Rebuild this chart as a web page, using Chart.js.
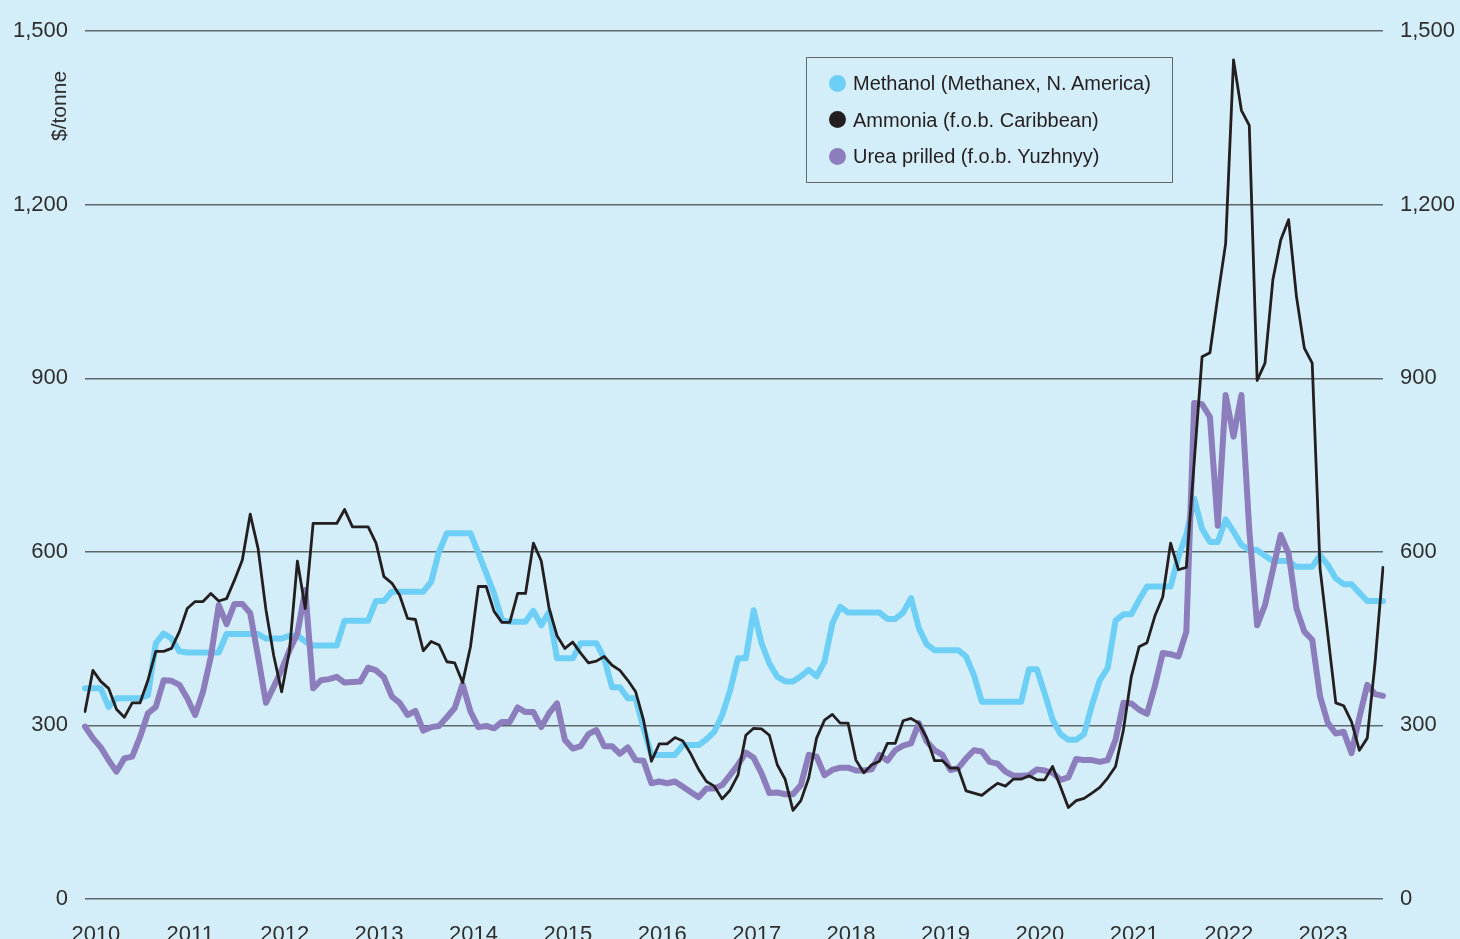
<!DOCTYPE html>
<html>
<head>
<meta charset="utf-8">
<script src="https://cdn.jsdelivr.net/npm/chart.js@4.4.0/dist/chart.umd.min.js"></script>
<style>
  html, body { margin: 0; padding: 0; background: #d4eef9; }
  #wrap { position: relative; width: 1460px; height: 939px; background: #d4eef9; font-family: "Liberation Sans", Arial, sans-serif; color: #231f20; }
  #chart { position: absolute; left: 0; top: 0; }
  #ytitle { position: absolute; left: 59px; top: 106px; transform: translate(-50%, -50%) rotate(-90deg); font-size: 21px; white-space: nowrap; color: #2a2a2a; }
  #legend { position: absolute; left: 806px; top: 57px; width: 367px; height: 126px; box-sizing: border-box; border: 1.5px solid #666; padding-top: 7px; }
  .row { position: relative; height: 36.5px; line-height: 36.5px; font-size: 20px; white-space: nowrap; }
  .dot { position: absolute; left: 22px; top: 9.5px; width: 17px; height: 17px; border-radius: 50%; }
  .lab { position: absolute; left: 46px; top: 0; }
</style>
</head>
<body>
<div id="wrap">
  <canvas id="chart" width="1460" height="939"></canvas>
  <div id="ytitle">$/tonne</div>
  <div id="legend"></div>
</div>
<script>
// Monthly prices, Dec 2009 .. Sep 2023 ($/tonne)
const seriesNames = ['Methanol (Methanex, N. America)', 'Ammonia (f.o.b. Caribbean)', 'Urea prilled (f.o.b. Yuzhnyy)'];
const seriesColors = ['#6dcff6', '#231f20', '#8c7dbd'];

const methanol = [
  364, 364, 364, 332, 347, 347, 347, 347, 352, 442,
  459, 450, 428, 426, 426, 426, 426, 426, 458, 458,
  458, 458, 458, 450, 450, 450, 455, 455, 445, 438,
  438, 438, 438, 481, 481, 481, 481, 515, 515, 531,
  531, 531, 531, 531, 548, 600, 632, 632, 632, 632,
  598, 563, 528, 482, 479, 479, 479, 498, 473, 496,
  416, 416, 416, 442, 442, 442, 416, 366, 366, 347,
  347, 295, 249, 249, 249, 249, 266, 266, 266, 276,
  289, 318, 360, 416, 416, 499, 442, 407, 384, 376,
  376, 385, 396, 385, 410, 476, 505, 495, 495, 495,
  495, 495, 484, 484, 495, 520, 468, 440, 430, 430,
  430, 430, 419, 387, 341, 341, 341, 341, 341, 341,
  397, 397, 355, 310, 285, 275, 275, 285, 335, 378,
  399, 481, 492, 492, 517, 540, 540, 540, 540, 592,
  630, 692, 640, 617, 617, 656, 635, 612, 603, 603,
  593, 584, 584, 584, 574, 574, 574, 594, 577, 554,
  544, 544, 529, 515, 515, 515
];

const ammonia = [
  324, 395, 376, 364, 328, 314, 339, 339, 378, 428,
  428, 433, 462, 502, 514, 514, 528, 515, 519, 551,
  586, 665, 606, 500, 420, 358, 430, 584, 502, 649,
  649, 649, 649, 673, 643, 643, 643, 615, 557, 546,
  525, 485, 483, 429, 445, 439, 410, 408, 374, 436,
  540, 540, 497, 478, 478, 528, 528, 615, 584, 502,
  455, 433, 444, 425, 408, 411, 419, 404, 395, 378,
  358, 309, 238, 268, 268, 279, 273, 251, 224, 203,
  195, 173, 188, 214, 283, 295, 294, 283, 232, 207,
  153, 170, 209, 278, 309, 319, 304, 304, 240, 218,
  232, 238, 269, 269, 308, 312, 304, 278, 239, 239,
  226, 226, 187, 183, 179, 190, 200, 195, 207, 207,
  213, 206, 206, 229, 194, 158, 170, 174, 183, 193,
  209, 229, 292, 384, 436, 443, 489, 522, 615, 569,
  573, 755, 937, 944, 1041, 1133, 1450, 1363, 1337, 896,
  926, 1070, 1139, 1174, 1041, 952, 926, 571, 455, 339,
  334, 306, 257, 278, 410, 573
];

const urea = [
  298, 278, 262, 240, 220, 243, 246, 280, 321, 332,
  378, 377, 370, 347, 318, 358, 419, 508, 475, 510,
  510, 494, 419, 339, 367, 396, 430, 459, 534, 364,
  378, 380, 384, 374, 375, 376, 400, 395, 383, 350,
  339, 318, 325, 291, 297, 299, 314, 330, 371, 324,
  297, 299, 295, 306, 306, 331, 323, 323, 297, 321,
  338, 275, 260, 264, 285, 292, 264, 264, 251, 262,
  240, 239, 200, 203, 200, 203, 194, 185, 176, 191,
  191, 197, 214, 232, 253, 244, 217, 183, 184, 181,
  181, 197, 249, 246, 214, 223, 227, 227, 222, 222,
  224, 249, 239, 257, 265, 269, 304, 272, 257, 249,
  223, 226, 243, 257, 255, 237, 234, 220, 213, 213,
  214, 224, 222, 218, 206, 210, 242, 240, 240, 237,
  240, 275, 339, 338, 327, 320, 368, 425, 423, 419,
  462, 857, 855, 833, 645, 871, 799, 871, 638, 473,
  508, 569, 629, 597, 502, 462, 448, 350, 304, 286,
  289, 252, 314, 370, 354, 351
];

const monthNames = ['Jan', 'Feb', 'Mar', 'Apr', 'May', 'Jun', 'Jul', 'Aug', 'Sep', 'Oct', 'Nov', 'Dec'];
const categories = [];
for (let k = 0; k < methanol.length; k++) {
  const m = (11 + k) % 12;
  const y = 2009 + Math.floor((11 + k) / 12);
  categories.push(monthNames[m] + ' ' + y);
}
const yearTicks = ['2010', '2011', '2012', '2013', '2014', '2015', '2016', '2017', '2018', '2019', '2020', '2021', '2022', '2023'];
const yTicks = [0, 300, 600, 900, 1200, 1500];

// legend (html, sits inside plot like the original)
const legendEl = document.getElementById('legend');
seriesNames.forEach((name, i) => {
  const row = document.createElement('div');
  row.className = 'row';
  row.innerHTML = '<span class="dot" style="background:' + seriesColors[i] + '"></span><span class="lab">' + name + '</span>';
  legendEl.appendChild(row);
});

const FONT = '"Liberation Sans", Arial, sans-serif';
const tickFont = { family: FONT, size: 22 };

function yAxis(position, width, showGrid) {
  return {
    type: 'linear',
    position: position,
    min: 0,
    max: 1500,
    afterBuildTicks: (axis) => { axis.ticks = yTicks.map(v => ({ value: v })); },
    afterFit: (axis) => { axis.width = width; },
    border: { display: false },
    grid: { display: showGrid, color: '#5f686c', lineWidth: 1.4, drawTicks: false },
    ticks: {
      color: '#2e2e2e',
      font: tickFont,
      padding: 17,
      callback: (v) => v.toLocaleString('en-US')
    }
  };
}

new Chart(document.getElementById('chart'), {
  type: 'line',
  data: {
    labels: categories,
    datasets: [
      { label: seriesNames[1], data: ammonia, borderColor: seriesColors[1], borderWidth: 2.8, order: 0 },
      { label: seriesNames[2], data: urea, borderColor: seriesColors[2], borderWidth: 6, order: 1 },
      { label: seriesNames[0], data: methanol, borderColor: seriesColors[0], borderWidth: 6, order: 2 }
    ].map(d => Object.assign(d, {
      pointRadius: 0,
      tension: 0,
      fill: false,
      borderJoinStyle: 'round',
      borderCapStyle: 'round',
      yAxisID: 'y'
    }))
  },
  options: {
    responsive: false,
    animation: false,
    devicePixelRatio: 1,
    layout: { padding: { top: 31, left: 0, right: 0, bottom: 0 } },
    plugins: { legend: { display: false }, tooltip: { enabled: false } },
    scales: {
      x: {
        type: 'category',
        offset: false,
        afterFit: (axis) => { axis.height = 40; },
        border: { display: false },
        grid: { display: false },
        ticks: {
          autoSkip: false,
          maxRotation: 0,
          minRotation: 0,
          padding: 15,
          labelOffset: 3,
          color: '#2e2e2e',
          font: tickFont,
          callback: function (value) {
            const lab = this.getLabelForValue(value);
            const yr = lab.slice(4);
            return lab.startsWith('Jan') && yearTicks.includes(yr) ? yr : '';
          }
        }
      },
      y: yAxis('left', 85, true),
      y2: yAxis('right', 77, false)
    }
  }
});
</script>
</body>
</html>
